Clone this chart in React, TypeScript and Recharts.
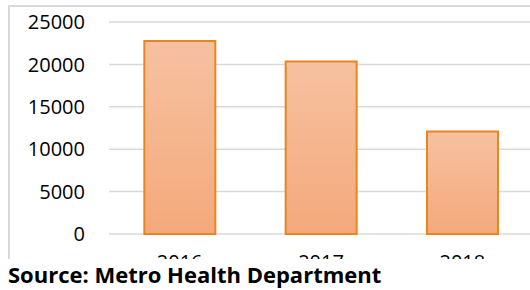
import { BarChart, Bar, XAxis, YAxis, CartesianGrid } from "recharts"

const years = ["2016", "2017", "2018"]
const cases = [22750, 20350, 12100]
const yTicks = [0, 5000, 10000, 15000, 20000, 25000]

const data = years.map((year, i) => ({ year, cases: cases[i] }))

const font = "'Open Sans', sans-serif"

export default function App() {
  return (
    <div style={{ position: "fixed", left: 0, top: 0, width: 530, height: 290, background: "#fff", overflow: "hidden" }}>
      {/* chart frame, cut off at the bottom like the original screenshot */}
      <div style={{ position: "absolute", left: 0, top: 0, width: 530, height: 259, overflow: "hidden" }}>
        <div
          style={{
            position: "absolute",
            left: 8,
            top: 5,
            width: 700,
            height: 400,
            borderLeft: "2px solid #d9d9d9",
            borderTop: "2px solid #d9d9d9",
          }}
        />
        <div style={{ position: "absolute", left: 0, top: 0 }}>
          <BarChart
            width={560}
            height={300}
            data={data}
            margin={{ top: 22, right: 27, left: 0, bottom: 36 }}
            barCategoryGap="25%"
          >
            <defs>
              <linearGradient id="barFill" x1="0" y1="0" x2="0" y2="1">
                <stop offset="0%" stopColor="#f6c1a1" />
                <stop offset="100%" stopColor="#f4a97b" />
              </linearGradient>
            </defs>
            <CartesianGrid vertical={false} stroke="#d9d9d9" strokeWidth={1.5} />
            <XAxis
              dataKey="year"
              axisLine={false}
              tickLine={false}
              tickSize={0}
              tickMargin={21}
              height={30}
              interval={0}
              tick={{ fontSize: 20, fill: "#000", fontFamily: font }}
            />
            <YAxis
              domain={[0, 25000]}
              ticks={yTicks}
              axisLine={false}
              tickLine={false}
              tickSize={0}
              tickMargin={24}
              width={109}
              interval={0}
              tick={{ fontSize: 20, fill: "#000", fontFamily: font }}
            />
            <Bar dataKey="cases" fill="url(#barFill)" stroke="#e8861e" strokeWidth={2} isAnimationActive={false} />
          </BarChart>
        </div>
      </div>
      <div
        style={{
          position: "absolute",
          left: 8,
          top: 260,
          fontFamily: font,
          fontWeight: 700,
          fontSize: 22,
          lineHeight: "28px",
          color: "#000",
          whiteSpace: "nowrap",
        }}
      >
        Source: Metro Health Department
      </div>
    </div>
  )
}
